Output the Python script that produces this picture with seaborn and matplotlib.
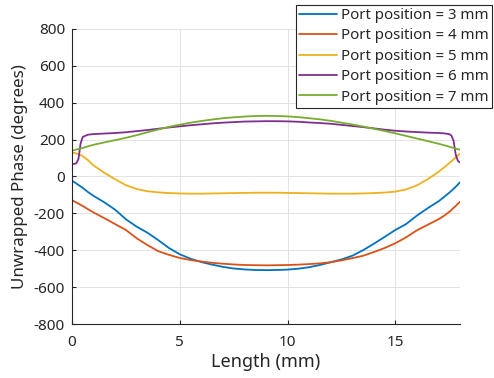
import matplotlib
matplotlib.use("Agg")
import matplotlib.pyplot as plt
import seaborn as sns
import pandas as pd

# Sample positions along the line (mm)
length_mm = [0.0, 0.1, 0.2, 0.3, 0.4, 0.5, 0.75, 1.0, 1.5, 2.0, 2.5, 3.0, 3.5,
             4.0, 4.5, 5.0, 5.5, 6.0, 6.5, 7.0, 7.5, 8.0, 8.5, 9.0, 9.5, 10.0,
             10.5, 11.0, 11.5, 12.0, 12.5, 13.0, 13.5, 14.0, 14.5, 15.0, 15.5,
             16.0, 16.5, 17.0, 17.25, 17.5, 17.6, 17.7, 17.8, 17.9, 18.0]

# Unwrapped phase (degrees) for each port position
phase_3mm = [-22, -30, -38, -46, -54, -62, -85, -105, -140, -180, -232, -272, -305,
             -345, -388, -422, -446, -464, -478, -490, -499, -504, -507, -508, -507, -505,
             -500, -492, -480, -465, -450, -430, -400, -365, -328, -290, -258,
             -212, -172, -135, -112, -88, -78, -67, -56, -44, -31]
phase_4mm = [-128, -135, -141, -147, -154, -160, -178, -195, -226, -258, -290, -335, -372,
             -405, -425, -442, -453, -461, -468, -473, -477, -480, -481, -482, -481, -480,
             -478, -475, -471, -465, -455, -443, -430, -410, -388, -362, -330,
             -292, -262, -232, -214, -192, -182, -170, -160, -148, -137]
phase_5mm = [130, 128, 125, 121, 116, 110, 88, 60, 20, -15, -47, -68, -80,
             -86, -90, -92, -93, -93, -92, -91, -90, -89, -88, -88, -88, -89,
             -90, -91, -92, -93, -93, -93, -92, -90, -87, -82, -70,
             -48, -15, 25, 48, 72, 82, 93, 104, 114, 124]
phase_6mm = [68, 68, 72, 95, 180, 215, 227, 230, 233, 236, 240, 246, 252,
             259, 266, 272, 278, 283, 288, 292, 295, 298, 299, 300, 300, 299,
             297, 293, 290, 286, 280, 274, 268, 261, 254, 248, 244,
             241, 238, 236, 234, 230, 222, 195, 120, 85, 76]
phase_7mm = [140, 143, 146, 149, 152, 155, 164, 172, 185, 197, 210, 224, 240,
             255, 269, 281, 292, 301, 309, 316, 321, 325, 328, 329, 328, 326,
             322, 316, 310, 302, 292, 282, 271, 259, 247, 234, 220,
             206, 192, 178, 170, 162, 158, 155, 151, 148, 145]

series_labels = ["Port position = 3 mm", "Port position = 4 mm", "Port position = 5 mm",
                 "Port position = 6 mm", "Port position = 7 mm"]
series_values = [phase_3mm, phase_4mm, phase_5mm, phase_6mm, phase_7mm]
line_colors = ["#0072BD", "#D95319", "#EDB120", "#7E2F8E", "#77AC30"]

x_ticks = [0, 5, 10, 15]
y_ticks = [-800, -600, -400, -200, 0, 200, 400, 600, 800]

frames = []
for label, values in zip(series_labels, series_values):
    frames.append(pd.DataFrame({"Length": length_mm, "Phase": values, "Series": label}))
df = pd.concat(frames, ignore_index=True)

sns.set_theme(style="ticks")
plt.rcParams["font.family"] = ["Noto Sans", "DejaVu Sans"]
plt.rcParams["axes.unicode_minus"] = False

fig = plt.figure(figsize=(4.94, 3.78), dpi=100)
ax = fig.add_axes([72 / 494, 1 - 324 / 378, (460 - 72) / 494, (324 - 29) / 378])

sns.lineplot(data=df, x="Length", y="Phase", hue="Series", hue_order=series_labels,
             palette=line_colors, linewidth=1.3, ax=ax, sort=False, estimator=None)

ax.set_xlim(0, 18)
ax.set_ylim(-800, 800)
ax.set_xticks(x_ticks)
ax.set_yticks(y_ticks)
ax.set_xticklabels([str(t) for t in x_ticks])
ax.set_yticklabels([str(t) for t in y_ticks])
ax.grid(True, color="#e3e3e3", linewidth=0.7)
ax.set_axisbelow(True)
for side in ["top", "right"]:
    ax.spines[side].set_visible(False)
for side in ["left", "bottom"]:
    ax.spines[side].set_color("#262626")
    ax.spines[side].set_linewidth(0.8)
ax.tick_params(direction="in", length=3, width=0.8, color="#262626",
               labelcolor="#262626", labelsize=11)
ax.tick_params(axis="x", pad=8)
ax.tick_params(axis="y", pad=5)
ax.set_xlabel("Length (mm)", fontsize=13, color="#262626", labelpad=2)
ax.set_ylabel("Unwrapped Phase (degrees)", fontsize=12.2, color="#262626", labelpad=4)

leg = ax.legend(loc="upper right", bbox_to_anchor=(492 / 494, 1 - 5 / 378),
                bbox_transform=fig.transFigure, fontsize=10.8, frameon=True,
                fancybox=False, edgecolor="#262626", framealpha=1,
                borderpad=0.2, labelspacing=0.36, handlelength=2.5,
                handletextpad=0.3, borderaxespad=0)
leg.get_frame().set_linewidth(0.8)

fig.savefig("out.png", dpi=100)
